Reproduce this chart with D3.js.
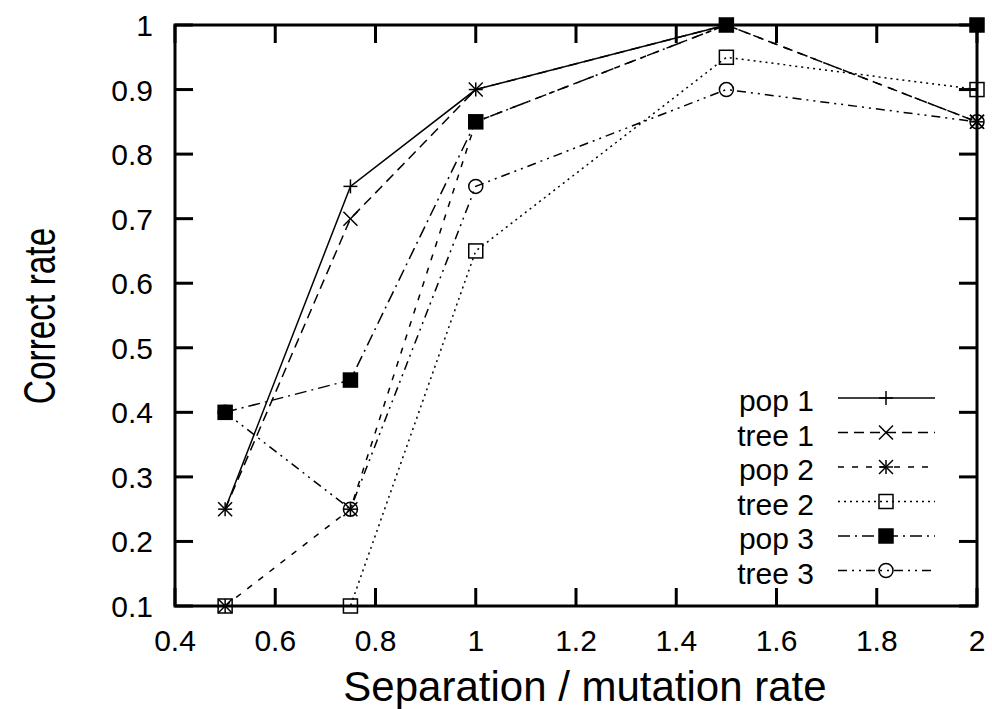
<!DOCTYPE html>
<html>
<head>
<meta charset="utf-8">
<script src="https://cdn.jsdelivr.net/npm/d3@7"></script>
<style>
  body { margin: 0; background: #fff; }
  svg text { font-family: "Liberation Sans", Arial, sans-serif; fill: #000; }
</style>
</head>
<body>
<svg id="chart" width="992" height="709"></svg>
<script>
// separation / mutation rate
const xValues = [0.5, 0.75, 1, 1.5, 2];
const seriesNames = ["pop 1", "tree 1", "pop 2", "tree 2", "pop 3", "tree 3"];
const pop1 = [0.25, 0.75, 0.9, 1.0, 1.0];
const tree1 = [0.25, 0.7, 0.9, 1.0, 0.85];
const pop2 = [0.1, 0.25, 0.85, 1.0, 0.85];
const tree2 = [0.1, 0.1, 0.65, 0.95, 0.9];
const pop3 = [0.4, 0.45, 0.85, 1.0, 1.0];
const tree3 = [0.4, 0.25, 0.75, 0.9, 0.85];
const xTicks = [0.4, 0.6, 0.8, 1, 1.2, 1.4, 1.6, 1.8, 2];
const yTicks = [0.1, 0.2, 0.3, 0.4, 0.5, 0.6, 0.7, 0.8, 0.9, 1];

const series = [
  { name: seriesNames[0], values: pop1, dash: null, marker: "plus" },
  { name: seriesNames[1], values: tree1, dash: "10,6", marker: "cross" },
  { name: seriesNames[2], values: pop2, dash: "6,8", marker: "star" },
  { name: seriesNames[3], values: tree2, dash: "2,4", marker: "box" },
  { name: seriesNames[4], values: pop3, dash: "12,5,2,5", marker: "fbox" },
  { name: seriesNames[5], values: tree3, dash: "9,5,2,5,2,5", marker: "circle" }
];

const plotL = 175, plotR = 977, plotT = 25, plotB = 606;
const svg = d3.select("#chart");
const x = d3.scaleLinear().domain([0.4, 2]).range([plotL, plotR]);
const y = d3.scaleLinear().domain([0.1, 1]).range([plotB, plotT]);

const tickLen = 18;
const fmt = d => String(d);

// inward ticks on all four sides
const g = svg.append("g");
xTicks.forEach(t => {
  g.append("line").attr("x1", x(t)).attr("x2", x(t)).attr("y1", plotB).attr("y2", plotB - tickLen)
    .attr("stroke", "#000").attr("stroke-width", 3);
  g.append("line").attr("x1", x(t)).attr("x2", x(t)).attr("y1", plotT).attr("y2", plotT + tickLen)
    .attr("stroke", "#000").attr("stroke-width", 3);
  g.append("text").attr("x", x(t)).attr("y", 651).attr("text-anchor", "middle")
    .attr("font-size", 30).text(fmt(t));
});
yTicks.forEach(t => {
  g.append("line").attr("x1", plotL).attr("x2", plotL + tickLen).attr("y1", y(t)).attr("y2", y(t))
    .attr("stroke", "#000").attr("stroke-width", 3);
  g.append("line").attr("x1", plotR).attr("x2", plotR - tickLen).attr("y1", y(t)).attr("y2", y(t))
    .attr("stroke", "#000").attr("stroke-width", 3);
  g.append("text").attr("x", 153).attr("y", y(t) + 11).attr("text-anchor", "end")
    .attr("font-size", 30).text(fmt(t));
});

// frame
svg.append("rect").attr("x", plotL).attr("y", plotT).attr("width", plotR - plotL).attr("height", plotB - plotT)
  .attr("fill", "none").attr("stroke", "#000").attr("stroke-width", 3);

// axis titles
svg.append("text").attr("x", 585).attr("y", 701).attr("text-anchor", "middle")
  .attr("font-size", 42).text("Separation / mutation rate");
svg.append("text").attr("transform", "translate(55,316) rotate(-90) scale(0.76,1)").attr("text-anchor", "middle")
  .attr("font-size", 44).text("Correct rate");

function drawMarker(sel, type, cx, cy) {
  const s = 7;
  const m = sel.append("g").attr("transform", `translate(${cx},${cy})`)
    .attr("stroke", "#000").attr("stroke-width", 1.5).attr("fill", "none");
  if (type === "plus" || type === "star") {
    m.append("line").attr("x1", -s).attr("x2", s).attr("y1", 0).attr("y2", 0);
    m.append("line").attr("x1", 0).attr("x2", 0).attr("y1", -s).attr("y2", s);
  }
  if (type === "cross" || type === "star") {
    m.append("line").attr("x1", -s).attr("x2", s).attr("y1", -s).attr("y2", s);
    m.append("line").attr("x1", -s).attr("x2", s).attr("y1", s).attr("y2", -s);
  }
  if (type === "box") {
    m.append("rect").attr("x", -s).attr("y", -s).attr("width", 2 * s).attr("height", 2 * s);
  }
  if (type === "fbox") {
    m.append("rect").attr("x", -s).attr("y", -s).attr("width", 2 * s).attr("height", 2 * s)
      .attr("fill", "#000");
  }
  if (type === "circle") {
    m.append("circle").attr("r", s);
  }
}

const line = d3.line().x(d => x(d[0])).y(d => y(d[1]));
const plot = svg.append("g");
series.forEach(s => {
  const pts = xValues.map((xv, i) => [xv, s.values[i]]);
  plot.append("path").datum(pts).attr("d", line).attr("fill", "none")
    .attr("stroke", "#000").attr("stroke-width", 1.5)
    .attr("stroke-dasharray", s.dash);
  pts.forEach(p => drawMarker(plot, s.marker, x(p[0]), y(p[1])));
});

// legend
const legend = svg.append("g");
series.forEach((s, i) => {
  const ly = 398 + i * 34.5;
  legend.append("text").attr("x", 814).attr("y", ly + 13).attr("text-anchor", "end")
    .attr("font-size", 30).text(s.name);
  legend.append("line").attr("x1", 838).attr("x2", 935).attr("y1", ly).attr("y2", ly)
    .attr("stroke", "#000").attr("stroke-width", 1.5).attr("stroke-dasharray", s.dash);
  drawMarker(legend, s.marker, 886, ly);
});
</script>
</body>
</html>
